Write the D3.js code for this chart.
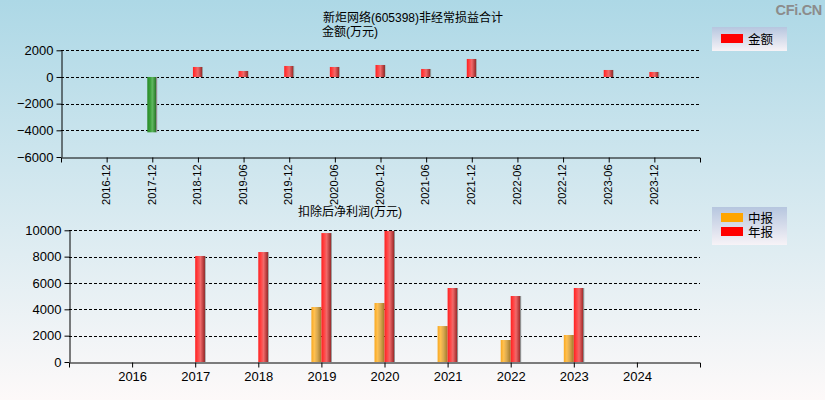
<!DOCTYPE html>
<html><head><meta charset="utf-8">
<script src="https://cdn.jsdelivr.net/npm/d3@7"></script>
<style>
html,body{margin:0;padding:0;}
svg{display:block;font-family:Arial,"Liberation Sans","Noto Sans CJK SC",sans-serif;}
</style></head>
<body>
<svg id="c" width="825" height="400"></svg>
<script>
// ---- data ----
const topTitle1 = "新炬网络(605398)非经常损益合计";
const topTitle2 = "金额(万元)";
const topCategories = ["2016-12","2017-12","2018-12","2019-06","2019-12","2020-06","2020-12","2021-06","2021-12","2022-06","2022-12","2023-06","2023-12"];
const topValues = [null,-4150,750,450,825,750,900,600,1350,null,null,525,375];
const topTicks = [2000,0,-2000,-4000,-6000];
const topLegend = ["金额"];

const bottomTitle = "扣除后净利润(万元)";
const bottomYears = ["2016","2017","2018","2019","2020","2021","2022","2023","2024"];
const midValues = [null,null,null,4175,4480,2730,1670,2050,null];
const annualValues = [null,8050,8350,9790,9950,5620,5010,5620,null];
const bottomTicks = [0,2000,4000,6000,8000,10000];
const bottomLegend = ["中报","年报"];

const svg = d3.select("#c");
const defs = svg.append("defs");

// background
const bg = defs.append("linearGradient").attr("id","bg").attr("x1",0).attr("y1",0).attr("x2",0).attr("y2",1);
bg.append("stop").attr("offset","0%").attr("stop-color","#add8e6");
bg.append("stop").attr("offset","100%").attr("stop-color","#fdf9f9");
svg.append("rect").attr("width",825).attr("height",400).attr("fill","url(#bg)");

function barGrad(id, stops){
  const g = defs.append("linearGradient").attr("id",id).attr("x1",0).attr("y1",0).attr("x2",1).attr("y2",0);
  stops.forEach(s=>g.append("stop").attr("offset",s[0]).attr("stop-color",s[1]));
}
barGrad("gRed",[["0%","#ff2020"],["30%","#ff4a4a"],["50%","#f06a6a"],["85%","#a83030"],["90%","#903838"],["91%","#8a8a8a"],["100%","#a0a0a0"]]);
barGrad("gGreen",[["0%","#2a8a2a"],["30%","#3aa03a"],["50%","#60b860"],["85%","#2a7a2a"],["90%","#286a28"],["91%","#8a8a8a"],["100%","#a0a0a0"]]);
barGrad("gOrange",[["0%","#f8a820"],["30%","#ffc050"],["60%","#d8a850"],["100%","#a07828"]]);
const lg = defs.append("linearGradient").attr("id","lg").attr("x1",0).attr("y1",0).attr("x2",0).attr("y2",1);
lg.append("stop").attr("offset","0%").attr("stop-color","#b6c6df");
lg.append("stop").attr("offset","100%").attr("stop-color","#f7f3f7");

// watermark
svg.append("text").attr("x",822).attr("y",15).attr("text-anchor","end")
  .attr("font-size",14.5).attr("font-weight","bold").attr("fill","#8c8c8c").attr("letter-spacing","-0.3").text("CFi.CN");

// ---------- top chart ----------
const tx = d3.scalePoint().domain(topCategories).range([61,700]).padding(1);
const ty = d3.scaleLinear().domain([-6000,2000]).range([157,50.3]);

svg.append("text").attr("x",323).attr("y",22).attr("font-size",12).attr("fill","#000").text(topTitle1);
svg.append("text").attr("x",322).attr("y",36).attr("font-size",12).attr("fill","#000").text(topTitle2);

// grid
svg.append("g").selectAll("line").data(topTicks.filter(d=>d>-6000)).join("line")
  .attr("x1",61).attr("x2",700).attr("y1",d=>Math.round(ty(d))+0.5).attr("y2",d=>Math.round(ty(d))+0.5)
  .attr("stroke","#000").attr("stroke-dasharray","3,2").attr("stroke-width",1);

// bars
const bw = 10;
svg.append("g").selectAll("rect").data(topCategories.map((c,i)=>({c,v:topValues[i]})).filter(d=>d.v!=null)).join("rect")
  .attr("x",d=>tx(d.c)-bw/2).attr("width",bw)
  .attr("y",d=>ty(Math.max(0,d.v))).attr("height",d=>Math.abs(ty(d.v)-ty(0)))
  .attr("fill",d=>d.v<0?"url(#gGreen)":"url(#gRed)");

// axes
const tyAxis = svg.append("g").attr("transform","translate(61.5,0)")
  .call(d3.axisLeft(ty).tickValues(topTicks).tickSize(5).tickSizeOuter(0).tickFormat(d3.format("d")));
const txAxis = svg.append("g").attr("transform","translate(0,157.5)")
  .call(d3.axisBottom(tx).tickSize(5).tickSizeOuter(5));
txAxis.selectAll("text").attr("transform","rotate(-90)").attr("text-anchor","end")
  .attr("x",-7).attr("y",0).attr("dy","0.25em").attr("font-size",11).attr("fill","#000");
[tyAxis].forEach(a=>a.selectAll("text").attr("font-size",13).attr("fill","#000").attr("font-family",null));
svg.selectAll(".domain").attr("stroke","#000");
svg.selectAll(".tick line").attr("stroke","#000");

// top legend
svg.append("rect").attr("x",712).attr("y",27).attr("width",75).attr("height",24).attr("fill","url(#lg)");
svg.append("rect").attr("x",721).attr("y",34).attr("width",22).attr("height",9).attr("fill","#ff0000");
svg.append("text").attr("x",748).attr("y",43.5).attr("font-size",12.5).attr("fill","#000").text(topLegend[0]);

// ---------- bottom chart ----------
const bx = d3.scalePoint().domain(bottomYears).range([69,700]).padding(1);
const by = d3.scaleLinear().domain([0,10000]).range([362,230.3]);

svg.append("text").attr("x",298).attr("y",216).attr("font-size",12).attr("fill","#000").text(bottomTitle);

svg.append("g").selectAll("line").data(bottomTicks.filter(d=>d>0)).join("line")
  .attr("x1",69).attr("x2",700).attr("y1",d=>Math.round(by(d))+0.5).attr("y2",d=>Math.round(by(d))+0.5)
  .attr("stroke","#000").attr("stroke-dasharray","3,2").attr("stroke-width",1);

svg.append("g").selectAll("rect").data(bottomYears.map((c,i)=>({c,v:midValues[i]})).filter(d=>d.v!=null)).join("rect")
  .attr("x",d=>bx(d.c)-bw).attr("width",bw)
  .attr("y",d=>by(d.v)).attr("height",d=>by(0)-by(d.v)).attr("fill","url(#gOrange)");
svg.append("g").selectAll("rect").data(bottomYears.map((c,i)=>({c,v:annualValues[i]})).filter(d=>d.v!=null)).join("rect")
  .attr("x",d=>bx(d.c)).attr("width",bw+0.5)
  .attr("y",d=>by(d.v)).attr("height",d=>by(0)-by(d.v)).attr("fill","url(#gRed)");

const byAxis = svg.append("g").attr("transform","translate(69.5,0)")
  .call(d3.axisLeft(by).tickValues(bottomTicks).tickSize(5).tickSizeOuter(0).tickFormat(d3.format("d")));
const bxAxis = svg.append("g").attr("transform","translate(0,362.5)")
  .call(d3.axisBottom(bx).tickSize(5).tickSizeOuter(5));
byAxis.selectAll("text").attr("font-size",13).attr("fill","#000");
bxAxis.selectAll("text").attr("font-size",13).attr("fill","#000").attr("y",9).attr("dy","0.71em");
svg.selectAll(".domain").attr("stroke","#000");
svg.selectAll(".tick line").attr("stroke","#000");
svg.selectAll(".tick text").attr("font-family","Arial,'Liberation Sans',sans-serif");

svg.append("rect").attr("x",712).attr("y",207).attr("width",75).attr("height",38).attr("fill","url(#lg)");
svg.append("rect").attr("x",721).attr("y",213).attr("width",22).attr("height",9).attr("fill","#ffa500");
svg.append("rect").attr("x",721).attr("y",227).attr("width",22).attr("height",9).attr("fill","#ff0000");
svg.append("text").attr("x",748).attr("y",222.5).attr("font-size",12.5).attr("fill","#000").text(bottomLegend[0]);
svg.append("text").attr("x",748).attr("y",236.5).attr("font-size",12.5).attr("fill","#000").text(bottomLegend[1]);
</script>
</body></html>
